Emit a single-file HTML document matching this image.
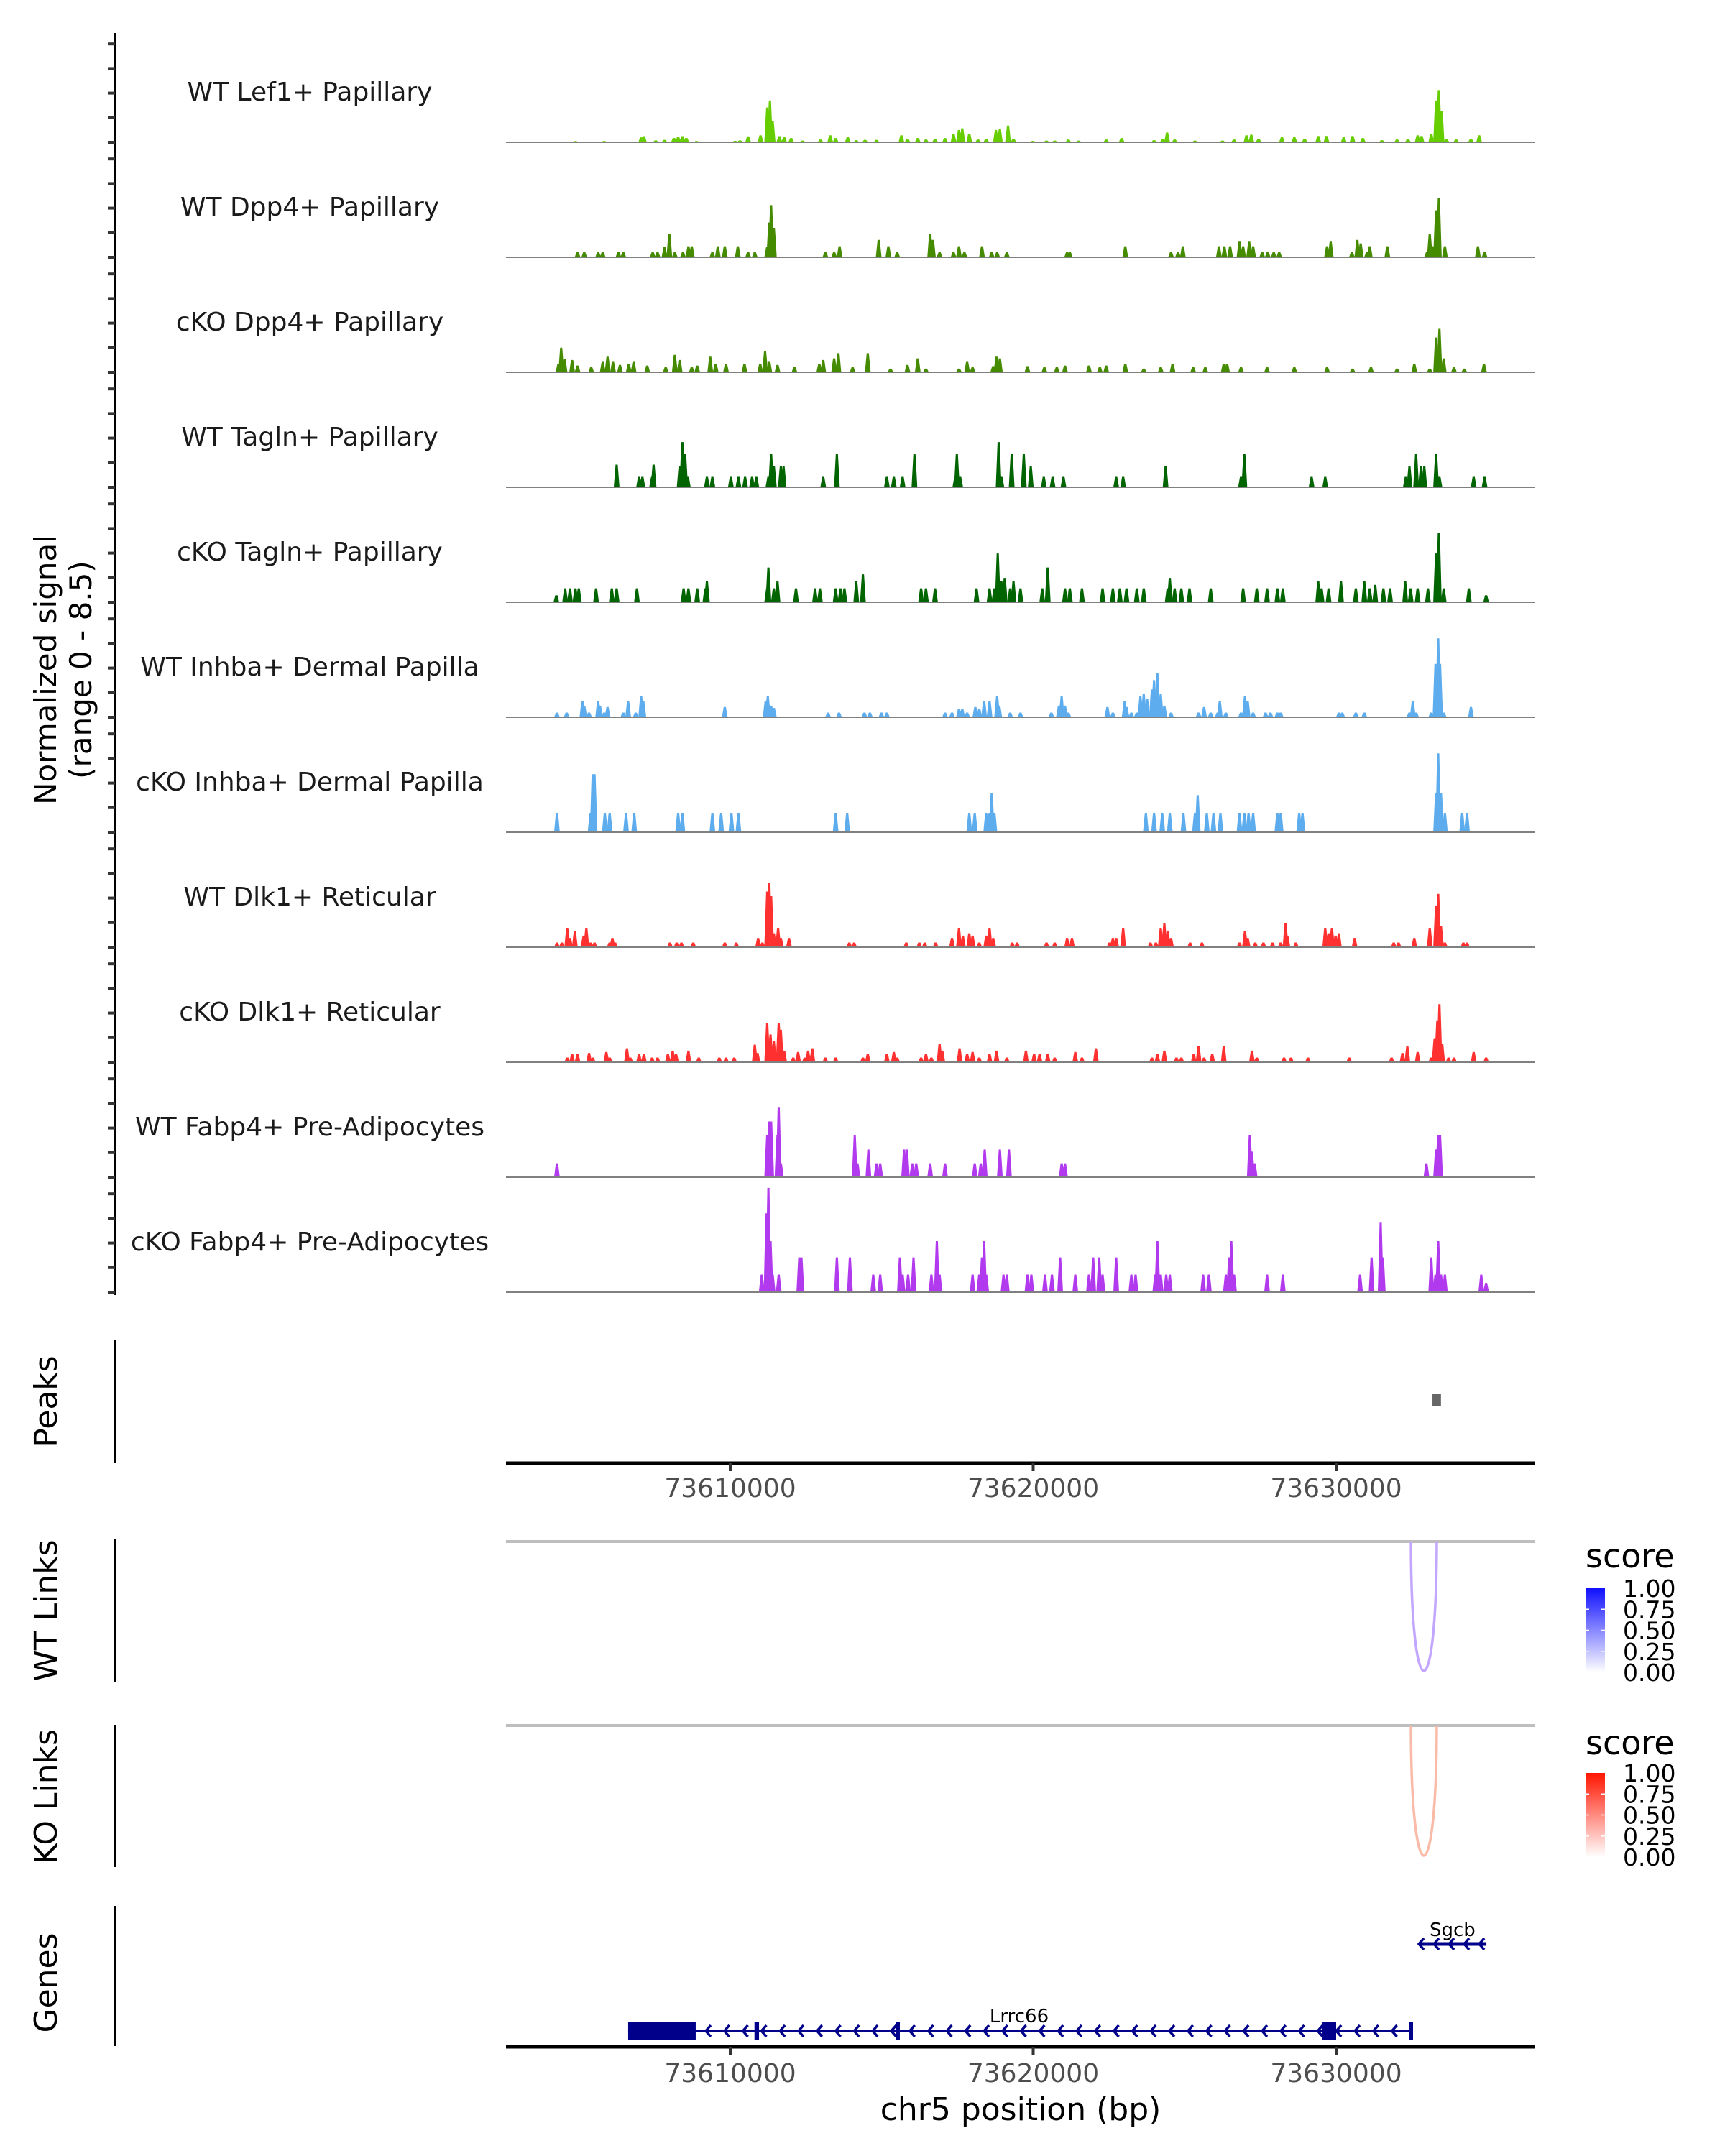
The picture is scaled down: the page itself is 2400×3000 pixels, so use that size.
<!DOCTYPE html>
<html><head><meta charset="utf-8"><title>Coverage plot chr5</title>
<style>html,body{margin:0;padding:0;background:#fff}svg{display:block}text{font-family:"DejaVu Sans","Liberation Sans",sans-serif}</style>
</head><body>
<svg id="chart" xmlns="http://www.w3.org/2000/svg" width="2400" height="3000" viewBox="0 0 2400 3000">
<rect x="0" y="0" width="2400" height="3000" fill="#fff"/>
<g id="tracks"></g>
<g id="lower"></g>
</svg>
<script>
// ---- data (genomic positions in kb offset from chr5:73,600,000; values = normalized signal) ----
const trackNames = ["WT Lef1+ Papillary","WT Dpp4+ Papillary","cKO Dpp4+ Papillary","WT Tagln+ Papillary","cKO Tagln+ Papillary","WT Inhba+ Dermal Papilla","cKO Inhba+ Dermal Papilla","WT Dlk1+ Reticular","cKO Dlk1+ Reticular","WT Fabp4+ Pre-Adipocytes","cKO Fabp4+ Pre-Adipocytes"];
const signalTicks = [0,2,4,6,8];
const xTicks = [73610000,73620000,73630000];
const xTickLabels = ["73610000","73620000","73630000"];
const legendTicks = [1.00,0.75,0.50,0.25,0.00];
const legendTickLabels = ["1.00","0.75","0.50","0.25","0.00"];
const peakRegions = [[33.18,33.46]];
const wtLinks = [[32.47,33.32,0.35]];
const koLinks = [[32.47,33.32,0.35]];
const geneLrrc66 = [6.63,32.47];
const lrrc66Exons = [[6.63,8.86],[10.80,10.95],[15.48,15.58],[29.55,30.0],[32.42,32.47]];
const geneSgcb = [32.73,34.96];

const lef1WT = [[4.89,.1],[5.84,.1],[7.06,.4],[7.15,.5],[7.54,.15],[7.83,.2],[8.14,.35],[8.28,.45],[8.42,.5],[8.55,.35],[8.89,.1],[10.16,.12],[10.32,.15],[10.59,.48],[11.0,.57],[11.22,2.83],[11.31,3.4],[11.4,1.7],[11.62,.5],[11.78,.42],[12.01,.34],[12.39,.14],[12.98,.23],[13.3,.57],[13.48,.34],[13.88,.42],[14.16,.17],[14.45,.2],[14.83,.2],[15.65,.57],[15.85,.28],[16.19,.34],[16.46,.23],[16.76,.28],[17.09,.34],[17.37,.7],[17.55,1.0],[17.66,1.13],[17.89,.7],[18.18,.23],[18.45,.28],[18.77,1.0],[18.9,1.08],[19.17,1.36],[19.35,.28],[19.99,.11],[20.44,.14],[20.71,.14],[21.16,.23],[21.5,.14],[22.41,.23],[22.92,.34],[23.99,.17],[24.28,.28],[24.42,.8],[24.67,.23],[25.34,.14],[26.25,.14],[26.63,.23],[27.04,.57],[27.2,.62],[27.44,.28],[28.21,.42],[28.62,.42],[28.96,.28],[29.41,.51],[29.68,.51],[30.25,.42],[30.54,.51],[30.88,.34],[31.51,.17],[32.01,.23],[32.37,.28],[32.69,.57],[32.82,.51],[33.14,.7],[33.3,3.4],[33.39,4.25],[33.48,2.55],[33.64,.28],[33.96,.23],[34.45,.28],[34.72,.57]];
const dpp4WT = [[4.96,.42],[5.18,.42],[5.64,.42],[5.79,.42],[6.31,.42],[6.47,.42],[7.44,.42],[7.6,.42],[7.83,.85],[7.99,1.93],[8.17,.42],[8.44,.42],[8.62,.9],[8.73,.9],[9.41,.42],[9.59,.9],[9.82,.9],[10.25,.9],[10.59,.42],[10.81,.42],[11.22,.85],[11.29,2.83],[11.35,4.25],[11.44,2.4],[13.14,.42],[13.43,.42],[13.61,.9],[14.9,1.42],[15.22,.9],[15.51,.42],[16.6,1.93],[16.69,1.42],[16.91,.42],[17.37,.42],[17.55,.9],[17.73,.42],[18.31,.9],[18.63,.42],[18.81,.42],[19.13,.42],[21.12,.42],[21.21,.42],[23.04,.9],[24.55,.42],[24.78,.42],[24.94,.9],[26.13,.9],[26.31,.9],[26.5,.9],[26.81,1.27],[26.93,.9],[27.13,1.27],[27.26,.9],[27.56,.42],[27.74,.42],[27.94,.42],[28.12,.42],[29.7,.9],[29.82,1.27],[30.52,.42],[30.7,1.42],[30.81,1.13],[31.02,.42],[31.11,.9],[31.69,.9],[33.0,.42],[33.09,1.93],[33.19,.9],[33.3,3.82],[33.39,4.8],[33.59,.9],[34.68,.9],[34.9,.42]];
const dpp4KO = [[4.33,.7],[4.42,2.0],[4.53,1.1],[4.78,1.0],[4.96,.55],[5.41,.42],[5.79,.85],[5.95,1.27],[6.13,.85],[6.36,.6],[6.65,.7],[6.81,.85],[7.26,.55],[7.87,.42],[8.17,1.42],[8.33,1.0],[8.73,.42],[8.91,.55],[9.34,1.27],[9.52,.7],[9.86,.7],[10.47,.7],[10.99,.7],[11.15,1.7],[11.29,.85],[11.56,.6],[12.12,.42],[12.94,.7],[13.07,1.0],[13.43,1.13],[13.57,1.56],[14.04,.42],[14.54,1.56],[15.29,.3],[15.85,.6],[16.19,1.13],[16.46,.3],[17.55,.3],[17.82,.85],[18.0,.42],[18.68,.5],[18.79,1.27],[18.9,1.13],[19.81,.5],[20.37,.42],[20.78,.42],[21.05,.55],[21.84,.55],[22.2,.42],[22.41,.55],[23.04,.7],[23.65,.3],[24.21,.42],[24.6,.7],[25.28,.42],[25.68,.42],[26.29,.7],[26.4,.7],[26.86,.42],[27.72,.42],[28.62,.42],[29.7,.42],[30.54,.3],[31.15,.42],[32.01,.3],[32.58,.7],[33.09,.3],[33.3,2.83],[33.41,3.54],[33.55,1.13],[33.89,.42],[34.23,.3],[34.88,.7]];
const taglnWT = [[6.25,1.84],[6.99,.85],[7.1,.85],[7.42,.85],[7.47,1.84],[8.33,1.7],[8.42,3.68],[8.51,2.69],[8.6,.85],[9.23,.85],[9.41,.85],[10.02,.85],[10.27,.85],[10.49,.85],[10.72,.85],[10.86,.85],[11.26,.85],[11.35,2.69],[11.44,1.7],[11.67,1.7],[11.76,1.7],[13.07,.85],[13.52,2.69],[15.17,.85],[15.4,.85],[15.69,.85],[16.08,2.69],[17.43,.85],[17.48,2.69],[17.59,.85],[18.86,3.68],[18.95,.85],[19.29,2.69],[19.69,2.69],[19.92,1.7],[20.35,.85],[20.64,.85],[21.0,.85],[22.74,.85],[22.97,.85],[24.37,1.7],[26.86,.85],[26.97,2.69],[29.19,.85],[29.64,.85],[32.3,.85],[32.42,1.7],[32.64,2.69],[32.8,1.7],[32.91,1.7],[33.3,2.69],[33.41,.85],[34.54,.85],[34.9,.85]];
const taglnKO = [[4.26,.57],[4.55,1.13],[4.71,1.13],[4.89,1.13],[5.0,1.13],[5.57,1.13],[6.09,1.13],[6.25,1.13],[6.92,1.13],[8.46,1.13],[8.62,1.13],[8.91,1.13],[9.18,1.13],[9.23,1.7],[11.22,1.13],[11.26,2.83],[11.44,1.13],[11.56,1.7],[12.17,1.13],[12.8,1.13],[12.96,1.13],[13.48,1.13],[13.64,1.13],[13.77,1.13],[14.16,1.7],[14.38,2.27],[16.3,1.13],[16.46,1.13],[16.76,1.13],[18.13,1.13],[18.56,1.13],[18.72,1.13],[18.83,3.97],[18.95,1.7],[19.06,1.98],[19.24,1.13],[19.35,1.7],[19.58,1.13],[20.3,1.13],[20.48,2.83],[21.05,1.13],[21.21,1.13],[21.61,1.13],[22.29,1.13],[22.63,1.13],[22.86,1.13],[23.08,1.13],[23.42,1.13],[23.65,1.13],[24.44,1.13],[24.51,1.98],[24.67,1.13],[24.89,1.13],[25.16,1.13],[25.86,1.13],[26.93,1.13],[27.38,1.13],[27.72,1.13],[28.06,1.13],[28.24,1.13],[29.41,1.7],[29.52,1.13],[29.75,1.13],[30.16,1.7],[30.65,1.13],[30.93,1.7],[31.11,1.13],[31.29,1.42],[31.56,1.13],[31.78,1.13],[32.28,1.7],[32.46,1.13],[32.69,1.13],[33.03,1.13],[33.3,3.97],[33.39,5.67],[33.55,1.13],[34.38,1.13],[34.95,.57]];
const inhbaWT = [[4.28,.38],[4.6,.38],[5.12,1.32],[5.18,.94],[5.34,.38],[5.64,1.32],[5.7,.94],[5.84,.38],[5.95,.83],[6.47,.38],[6.63,1.32],[6.88,.38],[7.06,1.7],[7.13,1.32],[9.82,.83],[11.17,1.32],[11.24,1.7],[11.35,.94],[11.44,.75],[13.23,.38],[13.59,.38],[14.43,.38],[14.61,.38],[14.99,.38],[15.17,.38],[17.09,.38],[17.32,.38],[17.55,.68],[17.66,.68],[17.82,.38],[18.09,.83],[18.22,.68],[18.38,1.32],[18.56,1.32],[18.81,1.7],[18.88,.94],[19.24,.38],[19.58,.38],[20.6,.38],[20.85,.94],[20.94,1.7],[21.05,.94],[21.16,.38],[22.45,.83],[22.63,.38],[23.02,1.32],[23.08,.83],[23.24,.38],[23.42,.38],[23.54,1.7],[23.65,1.89],[23.76,1.51],[23.92,2.26],[23.99,3.02],[24.1,3.58],[24.21,1.89],[24.33,.94],[24.55,.38],[25.46,.38],[25.64,.83],[25.86,.38],[26.09,.38],[26.16,1.32],[26.36,.38],[26.86,.38],[26.99,1.7],[27.08,1.32],[27.26,.38],[27.67,.38],[27.83,.38],[28.06,.38],[28.17,.38],[30.09,.38],[30.2,.38],[30.65,.38],[30.93,.38],[32.42,.38],[32.53,1.32],[32.64,.38],[33.14,.38],[33.28,4.34],[33.37,6.42],[33.43,4.34],[33.55,.38],[34.45,.83]];
const inhbaKO = [[4.28,1.58],[5.39,1.58],[5.46,4.72],[5.52,4.72],[5.86,1.58],[6.02,1.58],[6.56,1.58],[6.83,1.58],[8.28,1.58],[8.42,1.58],[9.41,1.58],[9.7,1.58],[10.04,1.58],[10.27,1.58],[13.48,1.58],[13.86,1.58],[17.89,1.58],[18.07,1.58],[18.45,1.58],[18.56,1.58],[18.63,3.21],[18.72,1.58],[23.72,1.58],[23.99,1.58],[24.26,1.58],[24.51,1.58],[24.96,1.58],[25.34,1.58],[25.43,3.02],[25.73,1.58],[25.95,1.58],[26.18,1.58],[26.81,1.58],[26.97,1.58],[27.11,1.58],[27.26,1.58],[28.06,1.58],[28.17,1.58],[28.78,1.58],[28.89,1.58],[33.3,3.21],[33.37,6.42],[33.46,3.21],[33.59,1.58],[34.16,1.58],[34.32,1.58]];
const dlk1WT = [[4.28,.38],[4.44,.38],[4.62,1.58],[4.71,.75],[4.87,1.32],[5.16,.94],[5.25,1.58],[5.39,.38],[5.52,.38],[6.02,.38],[6.11,.75],[6.2,.38],[8.01,.38],[8.23,.38],[8.39,.38],[8.78,.38],[9.82,.38],[10.2,.38],[10.92,.75],[11.06,.38],[11.22,4.53],[11.29,5.21],[11.35,4.15],[11.44,1.13],[11.58,1.58],[11.67,.75],[11.94,.75],[13.93,.38],[14.09,.38],[15.81,.38],[16.24,.38],[16.42,.38],[16.78,.38],[17.32,.75],[17.55,1.58],[17.68,.94],[17.89,1.13],[18.0,.94],[18.22,.38],[18.45,.94],[18.56,1.58],[18.68,.75],[19.31,.38],[19.47,.38],[20.44,.38],[20.71,.38],[21.12,.75],[21.28,.75],[22.52,.38],[22.63,.75],[22.74,.75],[22.97,1.58],[23.87,.38],[24.05,.38],[24.21,1.58],[24.33,1.96],[24.44,1.32],[24.55,.75],[25.18,.38],[25.57,.38],[26.81,.38],[26.99,1.32],[27.08,.75],[27.33,.38],[27.6,.38],[27.9,.38],[28.17,.38],[28.33,1.96],[28.39,.94],[28.67,.38],[29.64,1.58],[29.75,1.13],[29.86,1.58],[29.98,.94],[30.09,1.13],[30.61,.75],[31.9,.38],[32.06,.38],[32.58,.75],[33.09,1.58],[33.3,3.4],[33.37,4.34],[33.46,1.7],[33.59,.38],[34.2,.38],[34.32,.38]];
const dlk1KO = [[4.62,.38],[4.78,.68],[4.96,.68],[5.34,.75],[5.46,.38],[5.91,.83],[6.02,.38],[6.59,1.13],[6.7,.38],[6.99,.68],[7.15,.68],[7.42,.38],[7.6,.38],[7.94,.68],[8.1,.94],[8.21,.68],[8.62,.94],[8.96,.38],[9.64,.38],[9.86,.38],[10.13,.38],[10.81,1.43],[10.9,.75],[11.22,3.21],[11.33,2.26],[11.44,1.7],[11.6,3.21],[11.67,2.64],[11.78,.94],[12.08,.38],[12.24,.83],[12.46,.38],[12.57,.94],[12.71,1.13],[13.14,.38],[13.48,.38],[14.38,.38],[14.54,.68],[15.17,.68],[15.4,.83],[15.51,.38],[16.3,.38],[16.46,.68],[16.64,.38],[16.91,1.51],[17.0,.94],[17.57,1.13],[17.82,.68],[18.0,.83],[18.22,.38],[18.56,.68],[18.79,.94],[19.13,.38],[19.76,.94],[20.03,.68],[20.21,.68],[20.48,.68],[20.71,.38],[21.39,.83],[21.61,.38],[22.07,1.13],[23.92,.38],[24.1,.68],[24.33,.94],[24.73,.38],[24.89,.38],[25.3,.68],[25.46,1.32],[25.64,.38],[25.91,.68],[26.29,1.32],[27.22,.94],[27.38,.38],[28.28,.38],[28.51,.38],[29.07,.38],[30.43,.38],[31.83,.38],[32.19,.75],[32.35,1.32],[32.69,.83],[33.14,.38],[33.25,1.89],[33.34,3.4],[33.41,4.72],[33.5,1.51],[33.71,.38],[33.89,.38],[34.54,.83],[34.95,.38]];
const fabp4WT = [[4.28,1.13],[11.22,3.4],[11.29,4.53],[11.35,4.53],[11.56,3.4],[11.6,5.66],[11.67,1.13],[14.11,3.4],[14.2,1.13],[14.56,2.26],[14.83,1.13],[14.95,1.13],[15.74,2.26],[15.83,2.26],[16.01,1.13],[16.14,1.13],[16.6,1.13],[17.09,1.13],[18.07,1.13],[18.27,1.13],[18.4,2.26],[18.9,2.26],[19.2,2.26],[20.94,1.13],[21.05,1.13],[27.15,3.4],[27.22,2.08],[27.31,1.13],[32.98,1.13],[33.3,2.26],[33.37,3.4],[33.43,3.4]];
const fabp4KO = [[11.04,1.43],[11.2,6.42],[11.26,8.49],[11.33,4.15],[11.4,1.43],[11.6,1.43],[12.28,2.83],[12.35,2.83],[13.52,2.83],[13.95,2.83],[14.72,1.43],[14.95,1.43],[15.6,2.83],[15.69,1.43],[15.87,1.43],[16.05,2.83],[16.64,1.43],[16.82,4.15],[16.91,1.43],[18.0,1.43],[18.22,1.43],[18.31,2.83],[18.38,4.15],[18.45,1.43],[19.02,1.43],[19.13,1.43],[19.81,1.43],[19.94,1.43],[20.39,1.43],[20.62,1.43],[20.89,2.83],[21.39,1.43],[21.84,1.43],[21.98,2.83],[22.18,2.83],[22.29,1.43],[22.74,2.83],[23.24,1.43],[23.38,1.43],[24.03,1.43],[24.1,4.15],[24.21,1.43],[24.39,1.43],[24.51,1.43],[25.61,1.43],[25.8,1.43],[26.36,1.43],[26.47,2.83],[26.54,4.15],[26.63,1.43],[27.72,1.43],[28.24,1.43],[30.79,1.43],[31.17,2.83],[31.47,5.66],[31.54,2.83],[33.14,2.83],[33.28,1.43],[33.37,4.15],[33.46,1.43],[33.59,1.43],[34.79,1.43],[34.95,.75]];
const trackSeries = [lef1WT,dpp4WT,dpp4KO,taglnWT,taglnKO,inhbaWT,inhbaKO,dlk1WT,dlk1KO,fabp4WT,fabp4KO];
</script>
<script>
const NS="http://www.w3.org/2000/svg";
const trackColors=["#66CD00","#458B00","#458B00","#006400","#006400","#5CACEE","#5CACEE","#FF3030","#FF3030","#B23AEE","#B23AEE"];
const X0=704, X1=2135;
function xScale(kb){return 1016+(kb-10)*42.15;}
function xBp(bp){return xScale((bp-73600000)/1000);}
const UNIT=17.1;
function base(i){return 198+160*i;}
function yScale(i,v){return base(i)-v*UNIT;}
function mk(tag,attrs,parent,txt){const e=document.createElementNS(NS,tag);for(const k in attrs)e.setAttribute(k,attrs[k]);if(txt!==undefined)e.textContent=txt;parent.appendChild(e);return e;}
const T=document.getElementById('tracks'), L=document.getElementById('lower');

let ax=mk('line',{x1:160,y1:46,x2:160,y2:1802,stroke:'#000','stroke-width':4},T);


trackNames.forEach((nm,i)=>{
  const g=mk('g',{},T);
  
  
  signalTicks.forEach(t=>{
    const tk=mk('line',{x1:150,x2:160,y1:yScale(i,t),y2:yScale(i,t),stroke:'#333','stroke-width':4},g);
    
    
  });
  const lab=mk('text',{x:431,y:base(i)-58,'text-anchor':'middle','font-size':36,fill:'#1a1a1a'},g,nm);
  
  
  const b=base(i);
  trackSeries[i].forEach(p=>{
    const x=xScale(p[0]), y=yScale(i,p[1]);
    const pk=mk('polygon',{points:`${x-4},${b} ${x-1.5},${y} ${x+1.5},${y} ${x+4},${b}`,fill:trackColors[i]},g);
    
    
  });
  const bl=mk('line',{x1:X0,x2:X1,y1:b,y2:b,stroke:'#808080','stroke-width':2},g);
  
  
});
let yt=mk('text',{transform:'translate(78,932) rotate(-90)','text-anchor':'middle','font-size':42,fill:'#000'},T,'Normalized signal');


let yt2=mk('text',{transform:'translate(127,932) rotate(-90)','text-anchor':'middle','font-size':42,fill:'#000'},T,'(range 0 - 8.5)');



const panels=[["Peaks",1864,2036,1950],["WT Links",2142,2340,2241],["KO Links",2400,2598,2500],["Genes",2652,2847,2759]];
panels.forEach(p=>{
  const l=mk('line',{x1:160,x2:160,y1:p[1],y2:p[2],stroke:'#000','stroke-width':4},L);
  
  
  const t=mk('text',{transform:`translate(79,${p[3]}) rotate(-90)`,'text-anchor':'middle','font-size':44,fill:'#000'},L,p[0]);
  
  
});
peakRegions.forEach(r=>{
  const e=mk('rect',{x:xScale(r[0]),y:1940,width:xScale(r[1])-xScale(r[0]),height:17,fill:'#666'},L);
  
  
});
function xAxis(y,name,ly){
  const l=mk('line',{x1:X0,x2:X1,y1:y,y2:y,stroke:'#000','stroke-width':5},L);
  
  
  xTicks.forEach((t,k)=>{
    const x=xBp(t);
    const tk=mk('line',{x1:x,x2:x,y1:y,y2:y+11,stroke:'#333','stroke-width':4},L);
    
    
    const tl=mk('text',{x:x,y:ly,'text-anchor':'middle','font-size':36,fill:'#4d4d4d'},L,xTickLabels[k]);
    
    
  });
}
xAxis(2036,'peaks-x-axis',2083);
xAxis(2848,'genes-x-axis',2897);
let xt=mk('text',{x:1420,y:2950,'text-anchor':'middle','font-size':44,fill:'#000'},L,'chr5 position (bp)');



function linkPanel(top,bottom,links,colTop,name){
  const l=mk('line',{x1:X0,x2:X1,y1:top,y2:top,stroke:'#bebebe','stroke-width':4},L);
  
  
  links.forEach(k=>{
    const x1=xScale(k[0]),x2=xScale(k[1]);
    const c=top+(bottom-top)/0.75;
    const a=mk('path',{d:`M${x1},${top} C${x1},${c} ${x2},${c} ${x2},${top}`,fill:'none',stroke:colTop,'stroke-width':3.5},L);
    
    
  });
}
linkPanel(2145,2325,wtLinks,'#c2a6ff','wt-link');
linkPanel(2401,2582,koLinks,'#f9bba8','ko-link');

const defs=mk('defs',{},L);
const gb=mk('linearGradient',{id:'gBlue',x1:0,y1:1,x2:0,y2:0},defs);
mk('stop',{offset:0,'stop-color':'#ffffff'},gb);mk('stop',{offset:1,'stop-color':'#1010ff'},gb);
const gr=mk('linearGradient',{id:'gRed',x1:0,y1:1,x2:0,y2:0},defs);
mk('stop',{offset:0,'stop-color':'#ffffff'},gr);mk('stop',{offset:1,'stop-color':'#ff1500'},gr);
const LX=2206;
function legend(ty,by0,by1,grad,name){
  const g=mk('g',{},L);
  
  
  const t=mk('text',{x:LX,y:ty,'font-size':46,fill:'#000'},g,'score');
  
  
  const r=mk('rect',{x:LX,y:by0,width:27,height:by1-by0,fill:`url(#${grad})`},g);
  
  
  legendTicks.forEach((v,k)=>{
    const y=by1-v*(by1-by0);
    if(v>0&&v<1){mk('line',{x1:LX,x2:LX+5,y1:y,y2:y,stroke:'#fff','stroke-width':1.5},g);mk('line',{x1:LX+22,x2:LX+27,y1:y,y2:y,stroke:'#fff','stroke-width':1.5},g);}
    const tl=mk('text',{x:LX+52,y:y+12,'font-size':33,fill:'#000'},g,legendTickLabels[k]);
    
    
  });
}
legend(2181,2210,2327,'gBlue','wt-score-legend');
legend(2441,2467,2584,'gRed','ko-score-legend');

const NAVY='#00008B';
function chevrons(x0,x1,y,step,g){for(let x=x0;x<x1;x+=step){mk('polyline',{points:`${x+7},${y-8} ${x},${y} ${x+7},${y+8}`,fill:'none',stroke:NAVY,'stroke-width':3.5},g);}}
const gl=mk('g',{},L);


const gy=2826;
mk('line',{x1:xScale(geneLrrc66[0]),x2:xScale(geneLrrc66[1]),y1:gy,y2:gy,stroke:NAVY,'stroke-width':3},gl);
chevrons(xScale(8.86)+14,xScale(geneLrrc66[1])-10,gy,25.8,gl);
lrrc66Exons.forEach(e=>{
  const x0=xScale(e[0]),w=Math.max(5,xScale(e[1])-x0);
  const r=mk('rect',{x:x0,y:gy-13,width:w,height:26,fill:NAVY},gl);
  
  
});
let gt=mk('text',{x:1418,y:2814,'text-anchor':'middle','font-size':26,fill:'#000'},gl,'Lrrc66');


const gs=mk('g',{},L);


mk('line',{x1:xScale(geneSgcb[0]),x2:xScale(geneSgcb[1]),y1:2705,y2:2705,stroke:NAVY,'stroke-width':5},gs);
chevrons(xScale(geneSgcb[0]),xScale(geneSgcb[1])-8,2705,21,gs);
let st=mk('text',{x:xScale(33.84),y:2694,'text-anchor':'middle','font-size':26,fill:'#000'},gs,'Sgcb');


</script>
</body></html>
